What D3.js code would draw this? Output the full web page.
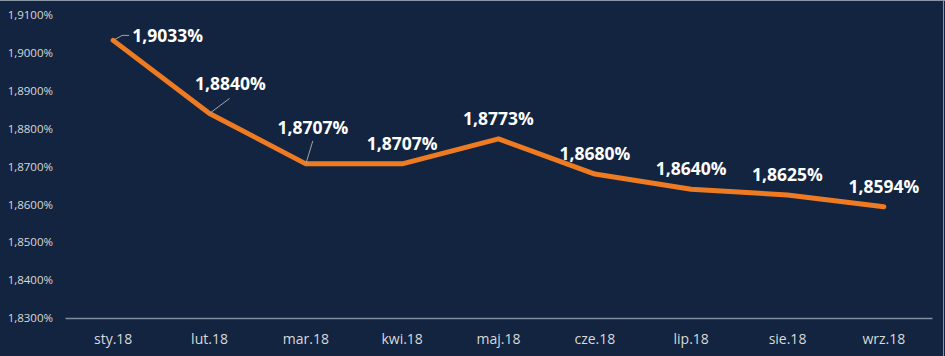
<!DOCTYPE html>
<html><head><meta charset="utf-8">
<script src="https://cdn.jsdelivr.net/npm/d3@7"></script>
<style>
html,body{margin:0;padding:0;background:#12243f;}
svg{display:block;}
</style></head>
<body>
<svg id="chart" width="945" height="356"></svg>
<script>
const categories = ["sty.18","lut.18","mar.18","kwi.18","maj.18","cze.18","lip.18","sie.18","wrz.18"];
const values = [1.9033, 1.8840, 1.8707, 1.8707, 1.8773, 1.8680, 1.8640, 1.8625, 1.8594];
const yTicks = [1.83, 1.84, 1.85, 1.86, 1.87, 1.88, 1.89, 1.90, 1.91];

const fmtTick = v => v.toFixed(4).replace(".", ",") + "%";
const fmtVal = v => v.toFixed(4).replace(".", ",") + "%";

const W = 945, H = 356;
const svg = d3.select("#chart");
svg.append("rect").attr("width", W).attr("height", H).attr("fill", "#12243f");
// thin frame at top and right edge
svg.append("line").attr("x1",0).attr("x2",W).attr("y1",0.5).attr("y2",0.5).attr("stroke","#8a96a8").attr("stroke-width",1);
svg.append("line").attr("x1",943.5).attr("x2",943.5).attr("y1",0).attr("y2",H).attr("stroke","#8a96a8").attr("stroke-width",1);

const x = d3.scaleBand().domain(categories).range([65, 932]);
const y = d3.scaleLinear().domain([1.83, 1.91]).range([318, 15]);

// y axis labels
const yAxis = d3.axisLeft(y).tickValues(yTicks).tickFormat(fmtTick).tickSize(0).tickPadding(0);
const gy = svg.append("g").attr("transform","translate(53,0)").call(yAxis);
gy.select(".domain").remove();
gy.selectAll("text").attr("fill","#d9d9d9").style("font-family","'Open Sans', sans-serif").style("font-size","11.5px");

// x axis
const xAxis = d3.axisBottom(x).tickSize(0).tickPadding(16);
const gx = svg.append("g").attr("transform","translate(0,318)").call(xAxis);
gx.select(".domain").attr("stroke","#7f8ea3").attr("stroke-width",1.5);
gx.selectAll("text").attr("fill","#d9d9d9").style("font-family","'Open Sans', sans-serif").style("font-size","14px");

const px = i => x(categories[i]) + x.bandwidth()/2;
const py = i => y(values[i]);

// line
const line = d3.line().x((d,i)=>px(i)).y((d,i)=>py(i));
svg.append("path").datum(values).attr("d", line)
  .attr("fill","none").attr("stroke","#ee7b22").attr("stroke-width",5)
  .attr("stroke-linejoin","round").attr("stroke-linecap","round");

// label placement (offsets from point)
const labelPos = {
  0: {dx: 19, dy: 2, anchor: "start", leader: [[0,0],[9,-5],[16,-5]]},
  1: {dx: 21, dy: -23, anchor: "middle", leader: [[0,0],[20,-15]]},
  2: {dx: 7, dy: -30, anchor: "middle", leader: [[0,0],[7,-23]]}
};

const gl = svg.append("g");
values.forEach((v,i) => {
  const p = labelPos[i] || {dx: 0, dy: -14, anchor: "middle"};
  if (p.leader) {
    gl.append("path")
      .attr("d", d3.line()(p.leader.map(q => [px(i)+q[0], py(i)+q[1]])))
      .attr("fill","none").attr("stroke","#a6a6a6").attr("stroke-width",1);
  }
  gl.append("text")
    .attr("x", px(i) + p.dx).attr("y", py(i) + p.dy)
    .attr("text-anchor", p.anchor)
    .attr("fill","#ffffff")
    .style("font-family","'Open Sans', sans-serif")
    .style("font-weight","bold").style("font-size","17.5px")
    .text(fmtVal(v));
});
// redraw line on top of leader starts
</script>
</body></html>
